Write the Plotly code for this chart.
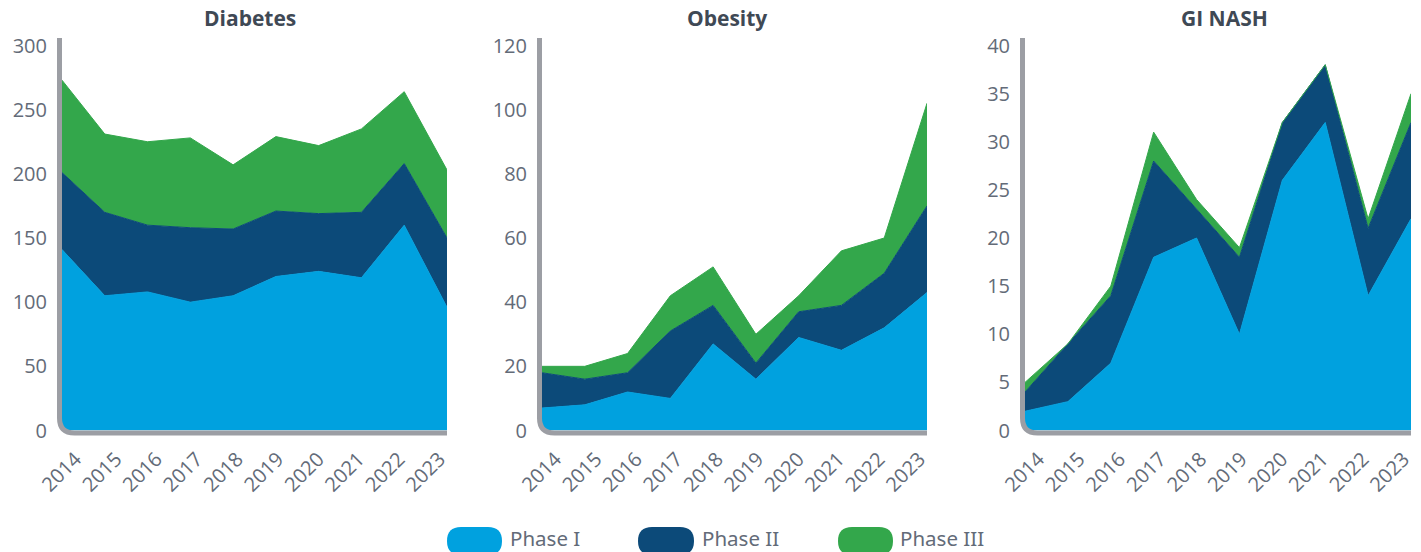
import plotly.graph_objects as go

W, H = 1421, 552

years = [2014, 2015, 2016, 2017, 2018, 2019, 2020, 2021, 2022, 2023]
year_labels = [str(y) for y in years]

diabetes_p1 = [141, 105, 108, 100, 105, 120, 124, 119, 160, 96]
diabetes_p2 = [60, 65, 52, 58, 52, 51, 45, 51, 48, 54]
diabetes_p3 = [72, 61, 65, 70, 50, 58, 53, 65, 56, 53]

obesity_p1 = [7, 8, 12, 10, 27, 16, 29, 25, 32, 43]
obesity_p2 = [11, 8, 6, 21, 12, 5, 8, 14, 17, 27]
obesity_p3 = [2, 4, 6, 11, 12, 9, 5, 17, 11, 32]

nash_p1 = [2, 3, 7, 18, 20, 10, 26, 32, 14, 22]
nash_p2 = [2, 6, 7, 10, 3, 8, 6, 6, 7, 10]
nash_p3 = [1, 0, 1, 3, 1, 1, 0, 0, 1, 3]

titles = ["Diabetes", "Obesity", "GI NASH"]
y_max = [300, 120, 40]
y_dtick = [50, 20, 5]
series_names = ["Phase I", "Phase II", "Phase III"]
colors = ["#00a1df", "#0c4a79", "#33a74b"]

panels = [
    (diabetes_p1, diabetes_p2, diabetes_p3),
    (obesity_p1, obesity_p2, obesity_p3),
    (nash_p1, nash_p2, nash_p3),
]

# pixel layout of each panel (left data px, right data px)
x_px = [(62, 447), (542, 927), (1025, 1411)]
y_bottom_px, y_top_px = 430.5, 45.5
title_x_px = [250, 727, 1224]

AXIS_GRAY = "#9c9ea4"
TICK_GRAY = "#636b78"
TITLE_GRAY = "#3f4955"
FONT = "Open Sans"


def px(x):
    return x / W


def py(y):
    return 1 - y / H


fig = go.Figure()
layout_axes = {}
shapes = []
annotations = []

# year labels are spread slightly tighter than the data points in the original
label_first_off, label_last_off = 13.5, -7.5   # px offset of label ticks vs data

for i, (vals, title) in enumerate(zip(panels, titles)):
    sfx = "" if i == 0 else str(i + 1)
    lab_sfx = str(i + 4)
    for name, v, c in zip(series_names, vals, colors):
        fig.add_trace(go.Scatter(
            x=years, y=v, name=name, mode="lines",
            stackgroup="s%d" % i, fillcolor=c,
            line=dict(color=c, width=1),
            xaxis="x" + sfx, yaxis="y" + sfx, showlegend=False,
        ))
    x0, x1 = x_px[i]
    dom = [px(x0), px(x1)]
    layout_axes["xaxis" + sfx] = dict(
        domain=dom, range=[years[0], years[-1]],
        anchor="y" + sfx, showticklabels=False, showgrid=False,
        zeroline=False, showline=False, ticks="", fixedrange=True,
        automargin=False,
    )
    # label axis (overlay) so year labels sit where the original draws them
    lp0 = x0 + label_first_off
    lp1 = x1 + label_last_off
    scale = (lp1 - lp0) / (years[-1] - years[0])
    a = years[0] - (lp0 - x0) / scale
    b = a + (x1 - x0) / scale
    layout_axes["xaxis" + lab_sfx] = dict(
        domain=dom, range=[a, b], overlaying="x" + sfx,
        anchor="y" + sfx, tickmode="array", tickvals=years, ticktext=year_labels,
        tickangle=-45, showgrid=False, zeroline=False, showline=False,
        ticks="", tickfont=dict(family=FONT, size=20, color=TICK_GRAY),
        ticklabelstandoff=12, fixedrange=True, automargin=False,
    )
    fig.add_trace(go.Scatter(x=[], y=[], xaxis="x" + lab_sfx, yaxis="y" + sfx,
                             showlegend=False, hoverinfo="skip"))
    layout_axes["yaxis" + sfx] = dict(
        domain=[py(y_bottom_px), py(y_top_px)], range=[0, y_max[i]],
        anchor="x" + sfx, dtick=y_dtick[i], tick0=0, showgrid=False,
        zeroline=False, showline=False, ticks="",
        tickfont=dict(family=FONT, size=20, color=TICK_GRAY),
        ticklabelstandoff=14, fixedrange=True, automargin=False,
    )

    # rounded L-shaped axis line
    lw = 5
    xl = x0 - lw / 2
    yb = y_bottom_px + lw / 2
    r = 15
    ytop = 38
    patch = "M %f,%f L %f,%f L %f,%f Q %f,%f %f,%f Z" % (
        px(xl), py(yb - r), px(xl), py(yb), px(xl + r), py(yb),
        px(xl), py(yb), px(xl), py(yb - r))
    shapes.append(dict(type="path", path=patch, xref="paper", yref="paper",
                       fillcolor="white", line=dict(width=0), layer="above"))
    path = "M %f,%f L %f,%f Q %f,%f %f,%f L %f,%f" % (
        px(xl), py(ytop), px(xl), py(yb - r), px(xl), py(yb),
        px(xl + r), py(yb), px(x1), py(yb))
    shapes.append(dict(type="path", path=path, xref="paper", yref="paper",
                       line=dict(color=AXIS_GRAY, width=lw), layer="above"))

    annotations.append(dict(
        text="<b>%s</b>" % title, x=px(title_x_px[i]), y=py(18),
        xref="paper", yref="paper", xanchor="center", yanchor="middle",
        showarrow=False, font=dict(family=FONT, size=21, color=TITLE_GRAY)))

# custom pill legend
legend_pills = [(447, 502), (638, 694), (838, 893)]
legend_text_x = [509, 701, 899]
ly0, ly1 = 527, 555
for (a, b), tx, name, c in zip(legend_pills, legend_text_x, series_names, colors):
    rr = (ly1 - ly0) / 2
    p = "M %f,%f L %f,%f Q %f,%f %f,%f Q %f,%f %f,%f L %f,%f Q %f,%f %f,%f Q %f,%f %f,%f Z" % (
        px(a + rr), py(ly0), px(b - rr), py(ly0),
        px(b), py(ly0), px(b), py(ly0 + rr),
        px(b), py(ly1), px(b - rr), py(ly1),
        px(a + rr), py(ly1),
        px(a), py(ly1), px(a), py(ly0 + rr),
        px(a), py(ly0), px(a + rr), py(ly0))
    shapes.append(dict(type="path", path=p, xref="paper", yref="paper",
                       fillcolor=c, line=dict(width=0)))
    annotations.append(dict(
        text=name, x=px(tx), y=py(538), xref="paper", yref="paper",
        xanchor="left", yanchor="middle", showarrow=False, borderpad=0,
        font=dict(family="Noto Sans", size=20.5, color=TICK_GRAY)))

fig.update_layout(
    width=W, height=H, autosize=False,
    margin=dict(l=0, r=0, t=0, b=0, autoexpand=False),
    paper_bgcolor="white", plot_bgcolor="white",
    showlegend=False, shapes=shapes, annotations=annotations,
    font=dict(family=FONT),
    **layout_axes,
)

fig.write_html("out.html", config={"displayModeBar": False},
               post_script="document.body.style.margin='0px';"
                           "document.body.style.overflow='hidden';")
